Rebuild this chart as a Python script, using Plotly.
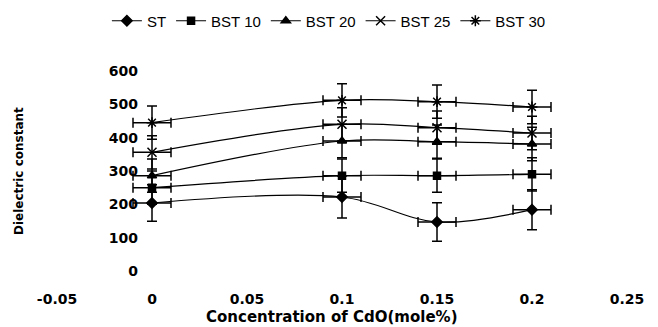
import plotly.graph_objects as go

x = [0, 0.1, 0.15, 0.2]
names = ["ST", "BST 10", "BST 20", "BST 25", "BST 30"]
st = [204, 222, 147, 184]
bst10 = [250, 286, 286, 290]
bst20 = [286, 390, 388, 381]
bst25 = [356, 440, 430, 414]
bst30 = [445, 512, 508, 492]
err_st = [55, 63, 58, 60]
err_bst = [50, 50, 50, 50]
err_x = 0.01

series = [st, bst10, bst20, bst25, bst30]
errs = [err_st, err_bst, err_bst, err_bst, err_bst]
symbols = ["diamond", "square", "triangle-up", "x-thin-open", "asterisk-open"]
sizes = [8, 7, 8, 9, 9]

fig = go.Figure()
for name, y, e, sym, sz in zip(names, series, errs, symbols, sizes):
    fig.add_trace(go.Scatter(
        x=x, y=y, name=name, mode="lines+markers",
        line=dict(color="black", width=1.2, shape="spline", smoothing=1),
        marker=dict(symbol=sym, size=sz, color="black",
                    line=dict(color="black", width=1.5)),
        error_y=dict(type="data", array=e, visible=True, color="black",
                     thickness=1.5, width=5),
        error_x=dict(type="constant", value=err_x, visible=True, color="black",
                     thickness=1.5, width=5),
    ))

bold = "DejaVu Sans, sans-serif"
reg = "Arial, Liberation Sans, sans-serif"
plot_h = 327 - 71 - 56
fig.update_layout(
    width=658, height=327,
    margin=dict(l=57, r=31, t=71, b=56),
    paper_bgcolor="white", plot_bgcolor="white",
    font=dict(family=reg, color="black"),
    showlegend=True,
    legend=dict(orientation="h", x=0.477, xanchor="center",
                yref="container", y=1 - 21 / 327, yanchor="middle",
                font=dict(size=15, family=reg), itemwidth=30, tracegroupgap=0),
    xaxis=dict(range=[-0.05, 0.25], tickvals=[-0.05, 0, 0.05, 0.1, 0.15, 0.2, 0.25],
               ticktext=["-0.05", "0", "0.05", "0.1", "0.15", "0.2", "0.25"],
               showgrid=False, zeroline=False, showline=False, ticks="",
               ticklabelstandoff=18, automargin=False,
               tickfont=dict(size=14, family=bold, weight="bold")),
    yaxis=dict(range=[0, 600], tickvals=[0, 100, 200, 300, 400, 500, 600],
               showgrid=False, zeroline=False, showline=False, ticks="",
               anchor="free", position=1/6, automargin=False,
               tickfont=dict(size=14, family=bold, weight="bold"),
               ticklabelstandoff=14),
    annotations=[
        dict(text="Dielectric constant", textangle=-90,
             x=(19 - 57) / 570, xref="paper", xanchor="center",
             y=0.5, yref="paper", yanchor="middle", showarrow=False,
             font=dict(size=12, family=bold, weight="bold")),
        dict(text="Concentration of CdO(mole%)",
             x=(331 - 57) / 570, xref="paper", xanchor="center",
             y=(271 - 317) / plot_h, yref="paper", yanchor="middle", showarrow=False,
             font=dict(size=15, family=bold, weight="bold")),
    ],
)

fig.write_html("out.html")
